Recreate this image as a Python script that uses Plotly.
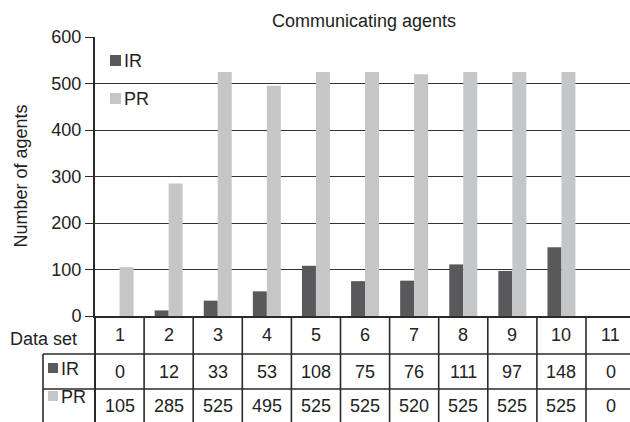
import plotly.graph_objects as go

# Data sets and agent counts per method
data_sets = ["1", "2", "3", "4", "5", "6", "7", "8", "9", "10", "11"]
ir_agents = [0, 12, 33, 53, 108, 75, 76, 111, 97, 148, 0]
pr_agents = [105, 285, 525, 495, 525, 525, 520, 525, 525, 525, 0]
series_names = ["IR", "PR"]

IR_COLOR = "#59595b"
PR_COLOR = "#c5c6c8"
LINE = "#2a2a2a"
FONT = "Liberation Sans, Arial, Helvetica, sans-serif"
FS = 18

W, H = 630, 422
ML, MR, MT, MB = 95, 0, 37, 106
PW, PH = W - ML - MR, H - MT - MB


def px_x(px):
    """Pixel column -> paper x."""
    return (px - ML) / PW


def px_y(py):
    """Pixel row -> paper y."""
    return (H - MB - py) / PH


xpos = list(range(1, len(data_sets) + 1))
cat_w = 49.1

fig = go.Figure()
fig.add_trace(go.Bar(x=xpos, y=ir_agents, name=series_names[0],
                     marker=dict(color=IR_COLOR, line=dict(width=0)), showlegend=False))
fig.add_trace(go.Bar(x=xpos, y=pr_agents, name=series_names[1],
                     marker=dict(color=PR_COLOR, line=dict(width=0)), showlegend=False))

shapes = []
annotations = []

# Table grid: column separators run from the axis to the bottom
for k in range(1, len(data_sets)):
    shapes.append(dict(type="line", xref="x", yref="paper", x0=k + 0.5, x1=k + 0.5,
                       y0=0, y1=px_y(H + 5), line=dict(color=LINE, width=1.6)))
# y axis continues down through the table
shapes.append(dict(type="line", xref="paper", yref="paper", x0=0, x1=0,
                   y0=0, y1=px_y(H + 5), line=dict(color=LINE, width=2)))
# row separators
for py in (354, 389):
    shapes.append(dict(type="line", xref="paper", yref="paper", x0=px_x(43), x1=1,
                       y0=px_y(py), y1=px_y(py), line=dict(color=LINE, width=1.6)))
# left border of the series rows
shapes.append(dict(type="line", xref="paper", yref="paper", x0=px_x(43), x1=px_x(43),
                   y0=px_y(354), y1=px_y(H + 5), line=dict(color=LINE, width=1.6)))

# Table text
annotations.append(dict(text="Data set", xref="paper", yref="paper", x=px_x(43), y=px_y(339),
                        xanchor="center", yanchor="middle", showarrow=False,
                        font=dict(size=FS, color="#222", family=FONT)))
for i, lab in enumerate(data_sets):
    annotations.append(dict(text=lab, xref="x", yref="paper", x=xpos[i], y=px_y(335),
                            xanchor="center", yanchor="middle", showarrow=False,
                            font=dict(size=FS, color="#222", family=FONT)))
    annotations.append(dict(text=str(ir_agents[i]), xref="x", yref="paper", x=xpos[i], y=px_y(372),
                            xanchor="center", yanchor="middle", showarrow=False,
                            font=dict(size=FS, color="#222", family=FONT)))
    annotations.append(dict(text=str(pr_agents[i]), xref="x", yref="paper", x=xpos[i], y=px_y(406),
                            xanchor="center", yanchor="middle", showarrow=False,
                            font=dict(size=FS, color="#222", family=FONT)))

# Series keys inside the table and on the chart
keys = [
    (series_names[0], IR_COLOR, 48, 363, 369),
    (series_names[1], PR_COLOR, 48, 391, 397),
    (series_names[0], IR_COLOR, 110, 55, 61),
    (series_names[1], PR_COLOR, 110, 93, 99),
]
for name, col, kx, ky, ty in keys:
    size = 10 if kx < 95 else 11
    shapes.append(dict(type="rect", xref="paper", yref="paper",
                       x0=px_x(kx), x1=px_x(kx + size), y0=px_y(ky), y1=px_y(ky + size),
                       fillcolor=col, line=dict(width=0)))
    annotations.append(dict(text=name, xref="paper", yref="paper", x=px_x(kx + size + 1), y=px_y(ty),
                            xanchor="left", yanchor="middle", showarrow=False,
                            font=dict(size=FS, color="#222", family=FONT)))

# Title and y-axis label
annotations.append(dict(text="Communicating agents", xref="paper", yref="paper",
                        x=px_x(364), y=px_y(21), xanchor="center", yanchor="middle",
                        showarrow=False, font=dict(size=FS, color="#222", family=FONT)))
annotations.append(dict(text="Number of agents", xref="paper", yref="paper",
                        x=px_x(20), y=0.5, xanchor="center", yanchor="middle", textangle=-90,
                        showarrow=False, font=dict(size=FS, color="#222", family=FONT)))

fig.update_layout(
    width=W, height=H,
    margin=dict(l=ML, r=MR, t=MT, b=MB, pad=0),
    paper_bgcolor="white", plot_bgcolor="white",
    barmode="group", bargap=0.43, bargroupgap=0,
    shapes=shapes, annotations=annotations,
    font=dict(family=FONT, size=FS, color="#222"),
    xaxis=dict(range=[0.5, 0.5 + PW / cat_w], showticklabels=False, ticks="",
               showgrid=False, zeroline=False, showline=True, linecolor=LINE, linewidth=2,
               fixedrange=True),
    yaxis=dict(range=[0, 600], dtick=100, showgrid=True, gridcolor="#333", gridwidth=1.3,
               zeroline=False, showline=True, linecolor=LINE, linewidth=2,
               ticks="outside", ticklen=8, tickwidth=1.3, tickcolor=LINE,
               tickfont=dict(size=FS, color="#222", family=FONT), fixedrange=True),
)

fig.write_html("out.html", config={"displayModeBar": False})
